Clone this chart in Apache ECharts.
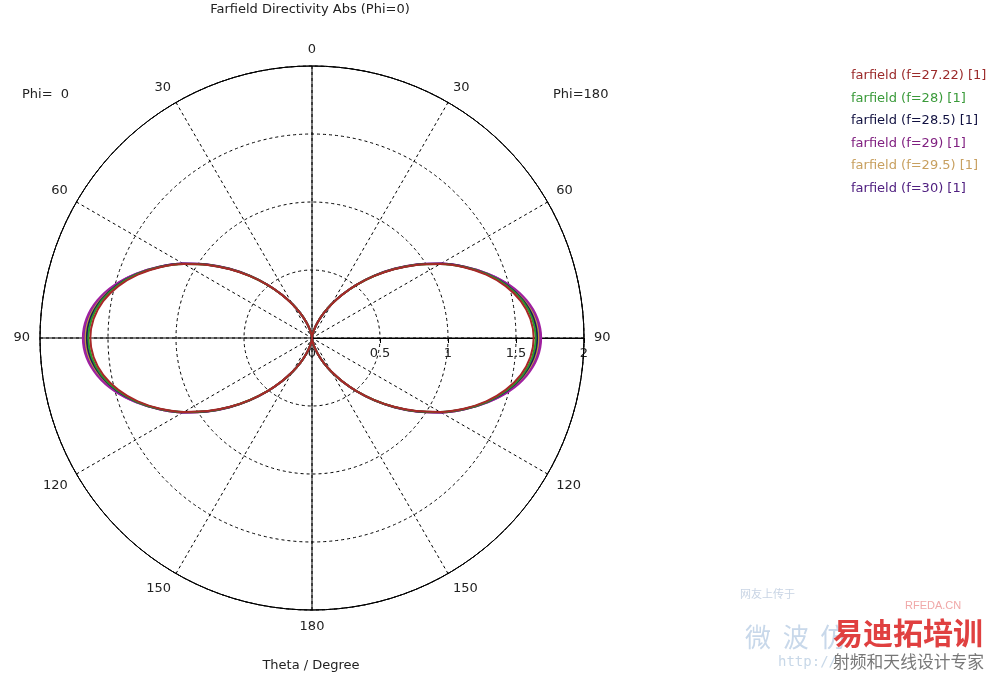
<!DOCTYPE html>
<html><head><meta charset="utf-8">
<script src="https://cdn.jsdelivr.net/npm/echarts@6/dist/echarts.min.js"></script>
<style>html,body{margin:0;padding:0;background:#fff}#c{width:991px;height:677px}</style>
</head><body><div id="c"></div>
<script>
const thetas = [0,5,10,15,20,25,30,35,40,45,50,55,60,65,70,75,80,85,90,95,100,105,110,115,120,125,130,135,140,145,150,155,160,165,170,175,180];
const seriesNames = ['farfield (f=27.22) [1]','farfield (f=28) [1]','farfield (f=28.5) [1]','farfield (f=29) [1]','farfield (f=29.5) [1]','farfield (f=30) [1]'];
const seriesColors = ['#a82828','#2a9a2a','#1a1a5a','#a020a0','#c89040','#6a28a8'];
const textColors = ['#9b2a2a','#3a9a3a','#101040','#802080','#c8a060','#502080'];
const d27 = [0,0.008,0.031,0.07,0.125,0.197,0.285,0.389,0.509,0.643,0.787,0.937,1.087,1.232,1.363,1.474,1.559,1.612,1.630,1.612,1.559,1.474,1.363,1.232,1.087,0.937,0.787,0.643,0.509,0.389,0.285,0.197,0.125,0.07,0.031,0.008,0];
const d28 = [0,0.008,0.031,0.07,0.125,0.197,0.286,0.390,0.510,0.645,0.789,0.939,1.089,1.235,1.370,1.484,1.572,1.626,1.645,1.626,1.572,1.484,1.370,1.235,1.089,0.939,0.789,0.645,0.510,0.390,0.286,0.197,0.125,0.07,0.031,0.008,0];
const d285 = [0,0.008,0.031,0.07,0.125,0.197,0.286,0.390,0.511,0.646,0.790,0.940,1.091,1.237,1.372,1.489,1.578,1.636,1.655,1.636,1.578,1.489,1.372,1.237,1.091,0.940,0.790,0.646,0.511,0.390,0.286,0.197,0.125,0.07,0.031,0.008,0];
const d29 = [0,0.008,0.031,0.07,0.125,0.198,0.287,0.392,0.513,0.649,0.794,0.945,1.096,1.240,1.380,1.505,1.602,1.664,1.685,1.664,1.602,1.505,1.380,1.240,1.096,0.945,0.794,0.649,0.513,0.392,0.287,0.198,0.125,0.07,0.031,0.008,0];
const d295 = [0,0.008,0.031,0.07,0.125,0.197,0.286,0.391,0.512,0.647,0.792,0.942,1.093,1.238,1.375,1.494,1.586,1.645,1.665,1.645,1.586,1.494,1.375,1.238,1.093,0.942,0.792,0.647,0.512,0.391,0.286,0.197,0.125,0.07,0.031,0.008,0];
const d30 = [0,0.008,0.031,0.07,0.125,0.198,0.287,0.391,0.512,0.648,0.793,0.943,1.094,1.239,1.378,1.500,1.594,1.655,1.675,1.655,1.594,1.500,1.378,1.239,1.094,0.943,0.793,0.648,0.512,0.391,0.287,0.198,0.125,0.07,0.031,0.008,0];
const allData = [d27,d28,d285,d29,d295,d30];
const radiusTicks = [0,0.5,1,1.5,2];

const FONT = 'DejaVu Sans';
function loop(vals){
  const out = [];
  for (let i=0;i<thetas.length;i++) out.push([vals[i], (thetas[i]+270)%360]);
  for (let i=thetas.length-1;i>=0;i--) out.push([vals[i], 270-thetas[i]]);
  return out;
}
const order = [3,5,4,2,1,0];
const series = order.map(k => ({
  name: seriesNames[k], type:'line', coordinateSystem:'polar', polarIndex:0,
  data: loop(allData[k]), showSymbol:false, smooth:0.3, z: 10+(5-k),
  lineStyle:{color:seriesColors[k], width:2}, itemStyle:{color:seriesColors[k]}, animation:false
}));

const chart = echarts.init(document.getElementById('c'), null, {renderer:'canvas'});
chart.setOption({
  backgroundColor:'#fff',
  animation:false,
  polar:[{center:[312,338], radius:272, z:2},{center:[312,338], radius:272, z:3}],
  angleAxis:[{
    polarIndex:0, type:'value', min:0, max:360, interval:30, startAngle:0, clockwise:true,
    axisLine:{show:true, lineStyle:{color:'#000', width:1}},
    axisTick:{show:false},
    axisLabel:{show:true, margin:10, color:'#222', fontFamily:FONT, fontSize:13,
      formatter:function(v){ if (v===360) return ''; const t=(v+90)%360; return String(t>180?360-t:t); }},
    splitLine:{show:true, lineStyle:{color:'#000', type:[3,3], width:1}}
  },{
    polarIndex:1, type:'value', min:0, max:360, interval:90, startAngle:0, clockwise:true, z:3,
    axisLine:{show:true, lineStyle:{color:'#000', width:1}}, axisTick:{show:false}, axisLabel:{show:false},
    splitLine:{show:true, lineStyle:{color:'#000', type:'solid', width:1}}
  }],
  radiusAxis:[{
    polarIndex:0, type:'value', min:0, max:2, interval:0.5,
    axisLine:{show:true, lineStyle:{color:'#000'}},
    axisTick:{show:false}, axisLabel:{show:false},
    splitLine:{show:true, lineStyle:{color:'#000', type:[3,3], width:1}}
  },{
    polarIndex:1, type:'value', min:0, max:2, show:false, splitLine:{show:false}
  }],
  grid:{left:312, top:238, width:272, height:100, show:false},
  xAxis:{type:'value', min:0, max:2, interval:0.5, position:'bottom',
    axisLine:{show:false},
    axisTick:{show:true, length:5, lineStyle:{color:'#000'}},
    axisLabel:{show:true, color:'#222', fontFamily:FONT, fontSize:13, margin:9,
      formatter:function(v){ return radiusTicks.indexOf(v)>=0 ? String(v) : ''; }},
    splitLine:{show:false}},
  yAxis:{type:'value', show:false, min:0, max:1, splitLine:{show:false}},
  legend:{
    orient:'vertical', left:841, top:64, itemGap:8.5, itemWidth:0, itemHeight:14, icon:'none',
    selectedMode:false,
    textStyle:{fontFamily:FONT, fontSize:13, lineHeight:14},
    data: seriesNames.map((n,k)=>({name:n, textStyle:{color:textColors[k]}}))
  },
  graphic:[
    {type:'text', z:1, style:{text:'网友上传于', x:740, y:594, textVerticalAlign:'middle', fill:'#c8d4e4', font:'11px "Noto Sans CJK SC"'}},
    {type:'text', z:1, style:{text:'微  波  仿', x:745, y:637, textVerticalAlign:'middle', fill:'#c8d8ea', font:'26px "Noto Sans CJK SC"'}},
    {type:'text', z:1, style:{text:'http://', x:778, y:662, textVerticalAlign:'middle', fill:'#c8d8e8', font:'14px "DejaVu Sans Mono"'}},
    {type:'text', z:2, style:{text:'RFEDA.CN', x:905, y:606, textVerticalAlign:'middle', fill:'#f0a8a8', font:'11px Liberation Sans'}},
    {type:'text', z:2, style:{text:'易迪拓培训', x:833, y:633, textVerticalAlign:'middle', fill:'#e04040', font:'bold 30px "Noto Sans CJK SC"'}},
    {type:'text', z:2, style:{text:'射频和天线设计专家', x:833, y:662, textVerticalAlign:'middle', fill:'#777', font:'16.8px "Noto Sans CJK SC"'}},
    {type:'text', style:{text:'Farfield Directivity Abs (Phi=0)', x:310, y:10, textAlign:'center', textVerticalAlign:'middle', fill:'#222', font:'13px '+FONT}},
    {type:'text', style:{text:'Phi=  0', x:22, y:95, textVerticalAlign:'middle', fill:'#222', font:'13px '+FONT}},
    {type:'text', style:{text:'Phi=180', x:553, y:95, textVerticalAlign:'middle', fill:'#222', font:'13px '+FONT}},
    {type:'text', style:{text:'Theta / Degree', x:311, y:666, textAlign:'center', textVerticalAlign:'middle', fill:'#222', font:'13px '+FONT}}
  ],
  series: series
});
</script></body></html>
